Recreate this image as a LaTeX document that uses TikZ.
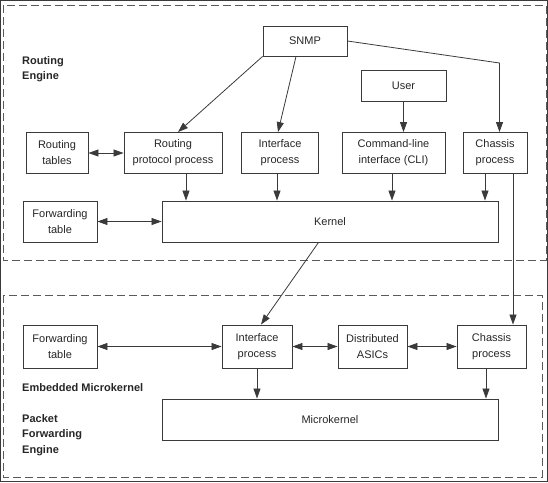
\documentclass[tikz,border=0pt]{standalone}
\usepackage{fontspec}
\setmainfont{Liberation Sans}
\usetikzlibrary{arrows.meta, positioning, calc}
\definecolor{lineg}{HTML}{3A3A3A}
\definecolor{dashg}{HTML}{5A5A5A}
\tikzset{
  box/.style={draw=lineg, line width=0.9pt, align=center, inner sep=0pt,
    font=\fontsize{11}{16}\selectfont, text=black!85},
  arr/.style={draw=lineg, line width=0.8pt, -{Triangle[length=10pt,width=7pt]}},
  dbl/.style={draw=lineg, line width=0.8pt,
    {Triangle[length=10pt,width=7pt]}-{Triangle[length=10pt,width=7pt]}},
  region/.style={draw=dashg, line width=0.9pt, dash pattern=on 8pt off 4pt},
  tag/.style={font=\bfseries\fontsize{11}{15.5}\selectfont, text=black!85,
    align=left, anchor=west, inner sep=0pt}
}

\begin{document}
\begin{tikzpicture}[x=1pt, y=-1pt]
    \useasboundingbox (0,0) rectangle (548,482);
    \draw[lineg, line width=1pt] (0.5,0.5) rectangle (547.5,481.5);
    % regions
    \draw[region] (3,5) rectangle (546,260);
    \draw[region] (3,295) rectangle (542,477);
    \node[tag] (retag) at (22,69) {Routing\\Engine};
    \node[tag] (emtag) at (22,388) {Embedded Microkernel};
    \node[tag] (pfetag) at (22,435) {Packet\\Forwarding\\Engine};
    % routing engine
    \node[box, minimum width=84pt, minimum height=30pt] (snmp) at (305,41) {SNMP};
    \node[box, minimum width=85pt, minimum height=31pt] (user) at (403.5,85.5) {User};
    \node[box, minimum width=62pt, minimum height=41pt] (rtab) at (57,153) {Routing\\tables};
    \node[box, minimum width=98pt, minimum height=41pt] (rpp) at (173,153) {Routing\\protocol process};
    \node[box, minimum width=77pt, minimum height=41pt] (ifp) at (280,153) {Interface\\process};
    \node[box, minimum width=103pt, minimum height=41pt] (cli) at (393.5,153) {Command-line\\interface (CLI)};
    \node[box, minimum width=64pt, minimum height=41pt] (chp) at (495,153) {Chassis\\process};
    \node[box, minimum width=74pt, minimum height=41pt] (ftab) at (60,221.5) {Forwarding\\table};
    \node[box, minimum width=336pt, minimum height=41pt] (kernel) at (330,221.5) {Kernel};
    % packet forwarding engine
    \node[box, minimum width=74pt, minimum height=43pt] (ftabb) at (60,346.5) {Forwarding\\table};
    \node[box, minimum width=70pt, minimum height=43pt] (ifpb) at (257,346.5) {Interface\\process};
    \node[box, minimum width=69pt, minimum height=43pt] (asic) at (372.5,346.5) {Distributed\\ASICs};
    \node[box, minimum width=69pt, minimum height=43pt] (chpb) at (491.5,346.5) {Chassis\\process};
    \node[box, minimum width=336pt, minimum height=41pt] (mkern) at (330,419.5) {Microkernel};
    % connectors
    \coordinate (bend) at (499.5,63);
    \draw[arr] (snmp.south west) -- ([xshift=5pt]rpp.north);
    \draw[arr] ([xshift=-9pt]snmp.south) -- ([xshift=-2pt]ifp.north);
    \draw[arr] (snmp.east) -- (bend) -- (bend |- chp.north);
    \draw[arr] (user.south) -- (user.south |- cli.north);
    \draw[dbl] (rtab.east) -- (rpp.west);
    \draw[dbl] (ftab.east) -- (ftab.east -| kernel.west);
    \draw[arr] ([xshift=13pt]rpp.south) -- ([xshift=13pt]rpp.south |- kernel.north);
    \draw[arr] ([xshift=-3pt]ifp.south) -- ([xshift=-3pt]ifp.south |- kernel.north);
    \draw[arr] ([xshift=-1.5pt]cli.south) -- ([xshift=-1.5pt]cli.south |- kernel.north);
    \draw[arr] ([xshift=-10pt]chp.south) -- ([xshift=-10pt]chp.south |- kernel.north);
    \draw[arr] ([xshift=18pt]chp.south) -- ([xshift=18pt]chp.south |- chpb.north);
    \draw[arr] ([xshift=-11.5pt]kernel.south) -- ([xshift=4pt]ifpb.north);
    \draw[dbl] (ftabb.east) -- (ifpb.west);
    \draw[dbl] (ifpb.east) -- (asic.west);
    \draw[dbl] (asic.east) -- (chpb.west);
    \draw[arr] (ifpb.south) -- (ifpb.south |- mkern.north);
    \draw[arr] ([xshift=-5.5pt]chpb.south) -- ([xshift=-5.5pt]chpb.south |- mkern.north);
\end{tikzpicture}
\end{document}
